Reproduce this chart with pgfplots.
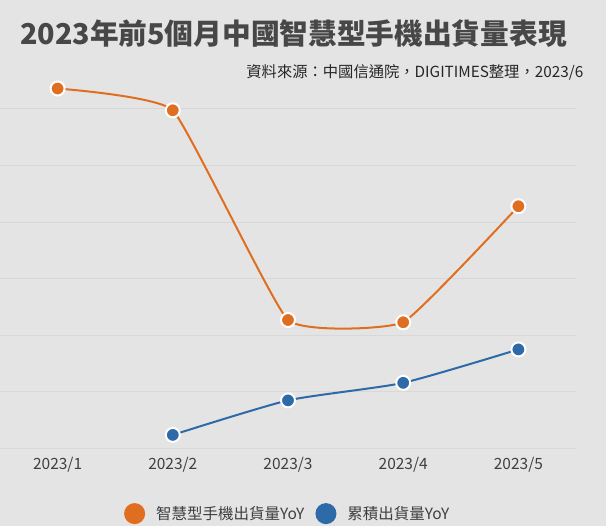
\documentclass[border=0pt]{standalone}
\usepackage{pgfplots}
\pgfplotsset{compat=1.18}
\usepackage{fontspec}
\setmainfont{Noto Sans CJK TC}
\definecolor{bgC}{HTML}{E4E4E4}
\definecolor{gridC}{HTML}{D8D8D8}
\definecolor{orangeC}{HTML}{E06E21}
\definecolor{blueC}{HTML}{2E6AA7}
\definecolor{titleC}{HTML}{474747}
\definecolor{labC}{HTML}{3F3F3F}
\begin{document}
\begin{tikzpicture}[x=1pt,y=1pt]
\fill[bgC] (0,0) rectangle (606,526);
\begin{axis}[
  at={(0pt,77.5pt)}, anchor=south west,
  scale only axis, width=576pt, height=396.2pt,
  xmin=-0.5, xmax=4.5, ymin=0, ymax=7,
  axis line style={draw=none},
  xtick={0,1,2,3,4},
  xticklabels={2023/1,2023/2,2023/3,2023/4,2023/5},
  ytick={0,1,2,3,4,5,6},
  yticklabels={},
  major tick length=0pt,
  tick style={draw=none},
  ymajorgrids, grid style={gridC, line width=1pt},
  xticklabel style={font=\fontsize{15.5}{18}\selectfont, text=labC, anchor=north, inner sep=0pt, yshift=-8.5pt},
  clip=false,
  legend style={at={(axis description cs:0.4995,-0.1644)}, anchor=center, draw=none, fill=none,
    legend columns=2, font=\fontsize{15.5}{18}\selectfont, text=labC,
    /tikz/every odd column/.append style={column sep=9pt},
    /tikz/every even column/.append style={column sep=9pt},
    nodes={inner sep=2pt}},
  legend cell align=left,
]
\addplot[orangeC, line width=2pt, smooth, tension=0.22, mark=*, mark size=7pt,
  mark options={fill=orangeC, draw=white, line width=2pt},
  legend image code/.code={\fill[orangeC] (0pt,0pt) circle (9.5pt);}]
  coordinates {(0,6.36) (1,5.975) (2,2.27) (3,2.23) (4,4.28)};
\addlegendentry{智慧型手機出貨量YoY}
\addplot[blueC, line width=2pt, smooth, tension=0.35, mark=*, mark size=7pt,
  mark options={fill=blueC, draw=white, line width=2pt},
  legend image code/.code={\fill[blueC] (0pt,0pt) circle (9.5pt);}]
  coordinates {(1,0.24) (2,0.85) (3,1.16) (4,1.75)};
\addlegendentry{累積出貨量YoY}
\end{axis}
\node[font=\bfseries\fontsize{28.7}{34}\selectfont, text=titleC, anchor=center, inner sep=0pt] at (293.5,492) {2023年前5個月中國智慧型手機出貨量表現};
\node[font=\fontsize{15.3}{18}\selectfont, text=black!85, anchor=east, inner sep=0pt] at (583.5,454) {資料來源：中國信通院，DIGITIMES整理，2023/6};
\pgfresetboundingbox
\path (0,0) rectangle (606,526);
\end{tikzpicture}
\end{document}
